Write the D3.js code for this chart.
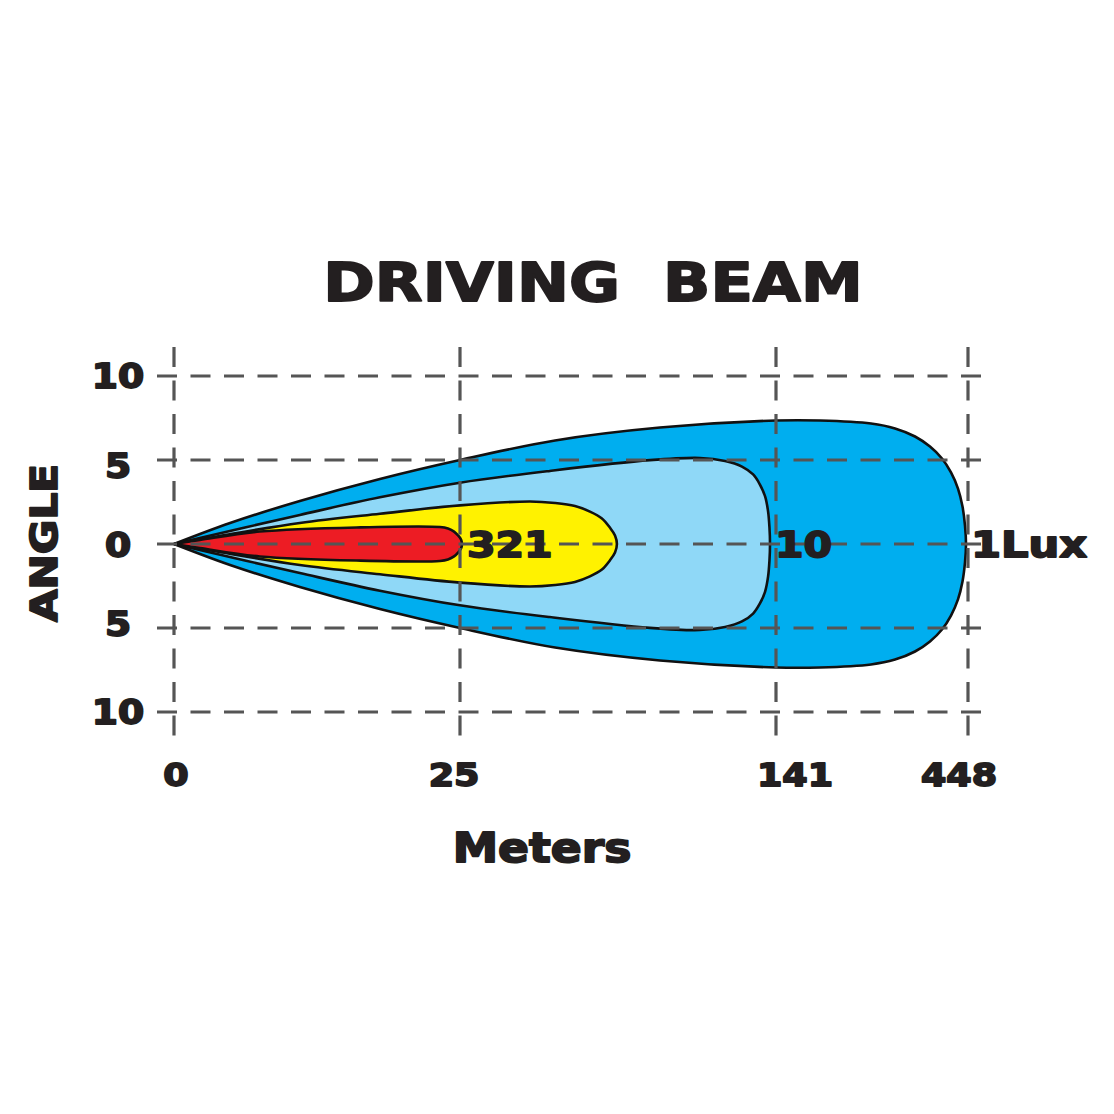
<!DOCTYPE html>
<html>
<head>
<meta charset="utf-8">
<script src="https://cdn.jsdelivr.net/npm/d3@7"></script>
<style>
  html, body { margin: 0; padding: 0; background: #ffffff; }
  svg { display: block; }
  text { font-family: "DejaVu Sans", sans-serif; font-weight: bold; fill: #231f20; white-space: pre; }
</style>
</head>
<body>
<svg id="chart" width="1114" height="1114"></svg>
<script>
// ---------------- DATA ----------------
const titleText = "DRIVING  BEAM";
const xAxisTitle = "Meters";
const yAxisTitle = "ANGLE";

const distanceTicks = [0, 25, 141, 448];
const distanceTickLabels = ["0", "25", "141", "448"];
const angleTicks = [10, 5, 0, -5, -10];
const angleTickLabels = ["10", "5", "0", "5", "10"];

// Beam contours: [distance (m), half-angle (deg)] along the upper edge
const beam1Lux = [[0, 0], [4.9, 1.25], [11.0, 2.56], [18.0, 3.87], [25, 5.0], [59.9, 6.16],
  [98.4, 6.93], [141, 7.35], [211.4, 7.35], [292.9, 7.17], [331.3, 6.88], [363.3, 6.40],
  [387.2, 5.80], [406.4, 5.09], [420.8, 4.26], [432.0, 3.30], [439.2, 2.23], [443.2, 1.10], [444.8, 0]];
const beam10Lux = [[0, 0], [11.0, 1.73], [18.0, 2.78], [25, 3.65], [58.0, 4.35], [94.7, 4.99],
  [113.1, 5.12], [122.3, 4.94], [128.5, 4.61], [132.6, 4.14], [135.1, 3.54], [137.0, 2.83],
  [138.1, 1.93], [138.6, 0.98], [138.8, 0]];
const beamMidLux = [[0, 0], [4.0, 0.48], [11.0, 1.25], [18.0, 1.8], [25, 2.3], [50.7, 2.53],
  [59.9, 2.44], [67.2, 2.26], [72.7, 1.93], [77.1, 1.52], [80.0, 0.98], [81.9, 0.51], [82.6, 0]];
const beam321Lux = [[0, 0], [2.27, 0.24], [7.5, 0.74], [16.3, 0.99], [23.25, 1.01], [23.95, 0.92],
  [24.48, 0.74], [24.83, 0.51], [25.37, 0.27], [25.73, 0]];

const beams = [beam1Lux, beam10Lux, beamMidLux, beam321Lux];
const beamLabels = ["1Lux", "10", "", "321"];

// ---------------- STYLE / LAYOUT ----------------
const beamColors = ["#00aeef", "#8fd8f7", "#fff200", "#ed1c24"];
const gridColor = "#555555";
const stretch = 1.14;

const svg = d3.select("#chart");

const x = d3.scaleLinear().domain(distanceTicks).range([174, 460, 776, 968]);
const y = d3.scaleLinear().domain([-10, 10]).range([712, 376]);

const line = d3.line()
  .x(d => x(d[0]))
  .y(d => y(d[1]))
  .curve(d3.curveCatmullRom.alpha(0.5));

function outline(profile) {
  const lower = profile.slice(0, -1).reverse().map(([m, a]) => [m, -a]);
  return profile.concat(lower);
}

// beams
const beamG = svg.append("g");
beams.forEach((b, i) => {
  beamG.append("path")
    .attr("d", line(outline(b)))
    .attr("fill", beamColors[i])
    .attr("stroke", "#111")
    .attr("stroke-width", 2.6)
    .attr("stroke-linejoin", "round");
});

// grid
const gridG = svg.append("g")
  .attr("stroke", gridColor)
  .attr("stroke-width", 3.2)
  .attr("stroke-dasharray", "20,13.5")
  .attr("fill", "none");

gridG.selectAll("line.h").data(angleTicks).join("line")
  .attr("class", "h")
  .attr("x1", 157).attr("x2", 985)
  .attr("y1", d => y(d)).attr("y2", d => y(d));

gridG.selectAll("line.v").data(distanceTicks).join("line")
  .attr("class", "v")
  .attr("x1", d => x(d)).attr("x2", d => x(d))
  .attr("y1", 347).attr("y2", 738);

// text helper
function addText(str, tx, ty, size, anchor, rot, sx) {
  const g = svg.append("g")
    .attr("transform", `translate(${tx},${ty}) rotate(${rot || 0}) scale(${sx || stretch},1)`);
  g.append("text")
    .attr("text-anchor", anchor || "middle")
    .attr("font-size", size)
    .attr("stroke", "#231f20")
    .attr("stroke-width", 1.8)
    .attr("stroke-linejoin", "round")
    .text(str);
  return g;
}

// title
addText(titleText, 593, 301, 54, "middle", 0, 1.15);

// y tick labels
const yLabelNudge = [0, 6, 1, -4, 0];
angleTicks.forEach((t, i) => {
  addText(angleTickLabels[i], 118, y(t) + 12 + yLabelNudge[i], 33, "middle");
});

// x tick labels
const xLabelNudge = [2, -6, 19, -9];
distanceTicks.forEach((t, i) => {
  addText(distanceTickLabels[i], x(t) + xLabelNudge[i], 786, 32, "middle");
});

// axis titles
addText(xAxisTitle, 542, 862, 40, "middle");
addText(yAxisTitle, 57, 543, 37, "middle", -90);

// contour labels
beams.forEach((b, i) => {
  if (!beamLabels[i]) return;
  const tip = b[b.length - 1];
  addText(beamLabels[i], x(tip[0]) + 5, y(0) + 13, 36, "start", 0, i === 0 ? 1.2 : stretch);
});
</script>
</body>
</html>
